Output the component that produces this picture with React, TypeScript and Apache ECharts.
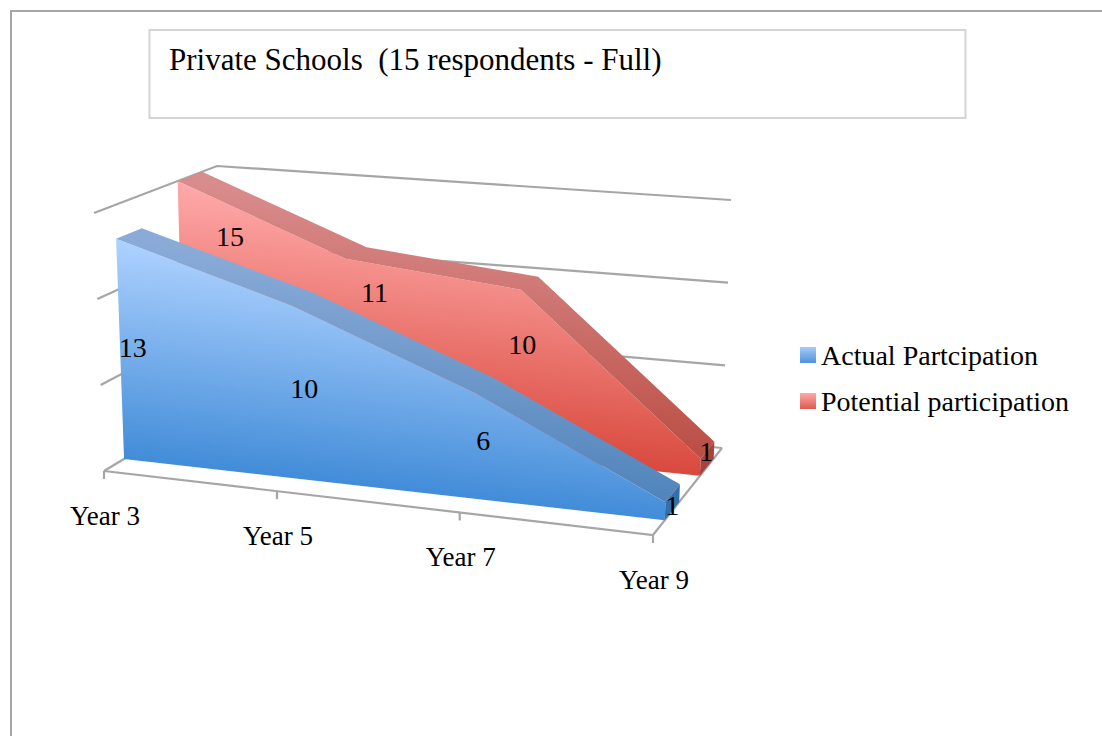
import React, { useEffect, useRef } from "react";
import * as echarts from "echarts";

const categories = ["Year 3", "Year 5", "Year 7", "Year 9"];
const actualValues = [13, 10, 6, 1];
const potentialValues = [15, 11, 10, 1];
const valueTicks = [0, 5, 10, 15];
const actualName = "Actual Partcipation";
const potentialName = "Potential participation";
const titleText = "Private Schools  (15 respondents - Full)";

const FONT = "'Liberation Serif', serif";
const GRID = { left: 100, top: 100, width: 300, height: 300 };

// Corners of the 3D box on screen
const FLB = [104, 471], FLT = [94, 213], BLB = [222, 400], BLT = [217, 166];
const FRB = [653, 535], FRT = [664, 261], BRB = [722, 448], BRT = [731, 200];
const X_PERSPECTIVE = 1.087;

const lerp = (a: number[], b: number[], t: number) => [a[0] + (b[0] - a[0]) * t, a[1] + (b[1] - a[1]) * t];

function project(u: number, v: number, z: number) {
  const uu = u / (u + X_PERSPECTIVE * (1 - u));
  const fb = lerp(FLB, FRB, uu), ft = lerp(FLT, FRT, uu);
  const bb = lerp(BLB, BRB, uu), bt = lerp(BLT, BRT, uu);
  return lerp(lerp(fb, ft, v), lerp(bb, bt, v), z);
}

function fromApi(api: any, cat: number, val: number, z: number) {
  const p = api.coord([cat, val]);
  return project((p[0] - GRID.left) / GRID.width, (GRID.top + GRID.height - p[1]) / GRID.height, z);
}

function gradientFor(top: number[], b0: number[], b1: number[], c0: string, c1: string) {
  const dx = b1[0] - b0[0], dy = b1[1] - b0[1];
  const len = Math.hypot(dx, dy);
  const nx = -dy / len, ny = dx / len;
  const d = (b0[0] - top[0]) * nx + (b0[1] - top[1]) * ny;
  return new echarts.graphic.LinearGradient(
    top[0], top[1], top[0] + nx * d, top[1] + ny * d,
    [{ offset: 0, color: c0 }, { offset: 1, color: c1 }],
    true
  );
}

const makeAreaRender = (
  values: number[],
  zFront: number,
  zBack: number,
  faceColors: string[],
  topColors: string[],
  capColor: string,
  nudges: number[][]
) => (params: any, api: any) => {
  if (params.dataIndex !== 0) return null;
  const n = values.length;
  const frontTop = values.map((v, i) => fromApi(api, i, v, zFront));
  const backTop = values.map((v, i) => fromApi(api, i, v, zBack));
  const b0 = fromApi(api, 0, 0, zFront);
  const b1 = fromApi(api, n - 1, 0, zFront);
  const b1Back = fromApi(api, n - 1, 0, zBack);
  const children: any[] = [];
  children.push({
    type: "polygon",
    shape: { points: [...frontTop, b1, b0] },
    style: { fill: gradientFor(frontTop[0], b0, b1, faceColors[0], faceColors[1]) },
  });
  children.push({
    type: "polygon",
    shape: { points: [...frontTop, ...[...backTop].reverse()] },
    style: { fill: gradientFor(frontTop[0], b0, b1, topColors[0], topColors[1]) },
  });
  children.push({
    type: "polygon",
    shape: { points: [frontTop[n - 1], backTop[n - 1], b1Back, b1] },
    style: { fill: capColor },
  });
  values.forEach((v, i) => {
    const a = fromApi(api, i, v / 2, (zFront + zBack) / 2);
    children.push({
      type: "text",
      x: a[0] + nudges[i][0],
      y: a[1] + nudges[i][1],
      style: { text: String(v), fontSize: 28, fontFamily: FONT, fill: "#000", align: "center", verticalAlign: "middle" },
    });
  });
  return { type: "group", children };
};

const LINE = { stroke: "#a6a6a6", lineWidth: 2.2, fill: "none" };

const renderWalls = (params: any, api: any) => {
  if (params.dataIndex !== 0) return null;
  const last = categories.length - 1;
  const children: any[] = [];
  valueTicks.forEach((t) => {
    children.push({
      type: "polyline",
      shape: { points: [fromApi(api, 0, t, 0), fromApi(api, 0, t, 1), fromApi(api, last, t, 1)] },
      style: LINE,
    });
  });
  children.push({
    type: "polyline",
    shape: { points: [fromApi(api, 0, 0, 0), fromApi(api, last, 0, 0), fromApi(api, last, 0, 1)] },
    style: LINE,
  });
  categories.forEach((c, i) => {
    const p = fromApi(api, i, 0, 0);
    children.push({ type: "line", shape: { x1: p[0], y1: p[1], x2: p[0], y2: p[1] + 8 }, style: { stroke: "#a6a6a6", lineWidth: 2.2 } });
    children.push({
      type: "text",
      x: p[0] + 1,
      y: p[1] + 45,
      style: { text: c, fontSize: 27, fontFamily: FONT, fill: "#000", align: "center", verticalAlign: "middle" },
    });
  });
  return { type: "group", children };
};

const vGrad = (c0: string, c1: string) =>
  new echarts.graphic.LinearGradient(0, 0, 0, 1, [{ offset: 0, color: c0 }, { offset: 1, color: c1 }]);

export default function App() {
  const ref = useRef<HTMLDivElement>(null);
  useEffect(() => {
    document.body.style.margin = "0";
    const chart = echarts.init(ref.current!, null, { renderer: "svg" });
    const seriesBase = { type: "custom", coordinateSystem: "cartesian2d", silent: true, clip: false };
    chart.setOption({
      animation: false,
      backgroundColor: "#fff",
      title: { text: titleText, left: 164, top: 39, textStyle: { fontFamily: FONT, fontSize: 31, fontWeight: "normal", color: "#000" } },
      legend: {
        orient: "vertical",
        left: 795,
        top: 336,
        itemWidth: 16,
        itemHeight: 16,
        itemGap: 18,
        selectedMode: false,
        textStyle: { fontFamily: FONT, fontSize: 28, color: "#000" },
        data: [
          { name: actualName, icon: "rect", itemStyle: { color: vGrad("#a6cbf8", "#4f92dc") } },
          { name: potentialName, icon: "rect", itemStyle: { color: vGrad("#ffa8a8", "#dc5a50") } },
        ],
      },
      grid: GRID,
      xAxis: { type: "category", data: categories, boundaryGap: false, show: false },
      yAxis: { type: "value", min: 0, max: 15, interval: 5, show: false },
      graphic: [
        { type: "rect", shape: { x: 11, y: 11, width: 1200, height: 800 }, style: { fill: "none", stroke: "#a6a6a6", lineWidth: 2 }, silent: true, z: -1 },
        { type: "rect", shape: { x: 149.5, y: 30, width: 816, height: 88 }, style: { fill: "none", stroke: "#d4d4d4", lineWidth: 2 }, silent: true, z: -1 },
      ],
      series: [
        { ...seriesBase, name: "walls", data: categories.map((_, i) => [i, 0]), renderItem: renderWalls, z: 1 },
        {
          ...seriesBase,
          name: potentialName,
          itemStyle: { color: "#dc5a50" },
          data: potentialValues.map((v, i) => [i, v]),
          z: 2,
          renderItem: makeAreaRender(potentialValues, 0.68, 0.88, ["#ffaaaa", "#d9493d"], ["#d98c8c", "#b8483e"], "#a8433a",
            [[37, -59], [18, -50], [-6, -22], [-1, -7]]),
        },
        {
          ...seriesBase,
          name: actualName,
          itemStyle: { color: "#4f92dc" },
          data: actualValues.map((v, i) => [i, v]),
          z: 3,
          renderItem: makeAreaRender(actualValues, 0.17, 0.38, ["#aed2ff", "#428cd8"], ["#8aabd8", "#4a80b8"], "#356ea8",
            [[0, 5], [0, 4], [-1, 3], [0, 3]]),
        },
      ],
    });
    return () => chart.dispose();
  }, []);
  return <div ref={ref} style={{ position: "fixed", left: 0, top: 0, width: 1102, height: 736 }} />;
}
